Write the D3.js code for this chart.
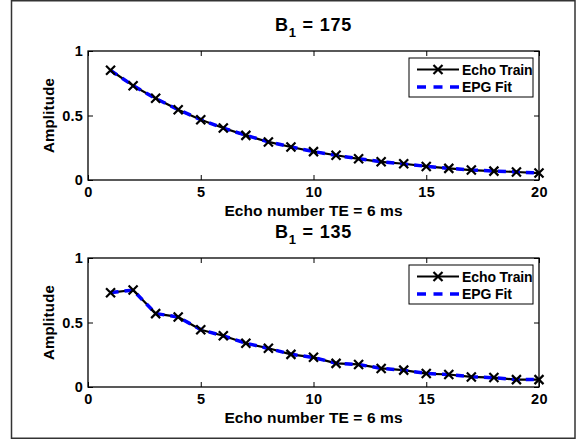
<!DOCTYPE html>
<html>
<head>
<meta charset="utf-8">
<script src="https://cdn.jsdelivr.net/npm/d3@7"></script>
<style>
  html, body { margin: 0; padding: 0; background: #fff; }
  svg { display: block; }
  text { font-family: "Liberation Sans", Arial, Helvetica, sans-serif; font-weight: bold; fill: #000; }
</style>
</head>
<body>
<svg id="chart" width="584" height="440"></svg>
<script>
// Echo index (1..20)
const echoNumbers = d3.range(1, 21);

// Panel 1: B1 = 175
const train175 = [0.851, 0.731, 0.633, 0.544, 0.467, 0.403, 0.346, 0.295, 0.256, 0.220,
                  0.192, 0.164, 0.141, 0.126, 0.105, 0.090, 0.077, 0.069, 0.062, 0.054];
const fit175   = [0.850, 0.732, 0.632, 0.545, 0.468, 0.402, 0.347, 0.296, 0.256, 0.221,
                  0.191, 0.165, 0.142, 0.125, 0.106, 0.091, 0.078, 0.069, 0.062, 0.055];

// Panel 2: B1 = 135
const train135 = [0.731, 0.752, 0.569, 0.543, 0.444, 0.397, 0.339, 0.300, 0.253, 0.230,
                  0.183, 0.175, 0.144, 0.131, 0.104, 0.097, 0.078, 0.073, 0.057, 0.057];
const fit135   = [0.732, 0.751, 0.570, 0.542, 0.445, 0.396, 0.340, 0.299, 0.254, 0.229,
                  0.184, 0.174, 0.145, 0.130, 0.105, 0.096, 0.079, 0.072, 0.058, 0.057];

const titles = ["175", "135"];
const xTicks = [0, 5, 10, 15, 20];
const yTicks = [0, 0.5, 1];
const yTickLabels = ["0", "0.5", "1"];
const legendLabels = ["Echo Train", "EPG Fit"];
const xLabel = "Echo number TE = 6 ms";
const yLabel = "Amplitude";

const panels = [
  { title: titles[0], train: train175, fit: fit175, top: 51, bottom: 180 },
  { title: titles[1], train: train135, fit: fit135, top: 258, bottom: 387 }
];

const svg = d3.select("#chart");

// outer figure frame
svg.append("rect")
  .attr("x", 11.5).attr("y", 0.75)
  .attr("width", 563.5).attr("height", 437.5)
  .attr("fill", "none").attr("stroke", "#333").attr("stroke-width", 1.5);

const left = 88, right = 539;
const x = d3.scaleLinear().domain([0, 20]).range([left, right]);

panels.forEach(p => {
  const y = d3.scaleLinear().domain([0, 1]).range([p.bottom, p.top]);
  const g = svg.append("g");

  g.append("rect")
    .attr("x", left).attr("y", p.top)
    .attr("width", right - left).attr("height", p.bottom - p.top)
    .attr("fill", "#fff");

  const styleAxis = sel => {
    sel.attr("font-size", null).attr("font-family", null);
    sel.select(".domain").remove();
    sel.selectAll(".tick line").attr("stroke", "#000").attr("stroke-width", 1);
  };

  // bottom axis with labels
  const xb = g.append("g").attr("transform", `translate(0,${p.bottom})`)
    .call(d3.axisBottom(x).tickValues(xTicks).tickSize(-5).tickPadding(7).tickFormat(d3.format("d")));
  styleAxis(xb);
  xb.selectAll(".tick text").style("font-size", "14.5px").attr("letter-spacing", "0.4px")
    .attr("dy", "0.71em");

  // top axis: ticks only
  const xt = g.append("g").attr("transform", `translate(0,${p.top})`)
    .call(d3.axisTop(x).tickValues(xTicks).tickSize(-5).tickFormat(""));
  styleAxis(xt);

  // left axis with labels
  const yl = g.append("g").attr("transform", `translate(${left},0)`)
    .call(d3.axisLeft(y).tickValues(yTicks).tickSize(-5).tickPadding(5)
      .tickFormat((d, i) => yTickLabels[i]));
  styleAxis(yl);
  yl.selectAll(".tick text").style("font-size", "14.5px").attr("letter-spacing", "0.2px");

  // right axis: ticks only
  const yr = g.append("g").attr("transform", `translate(${right},0)`)
    .call(d3.axisRight(y).tickValues(yTicks).tickSize(-5).tickFormat(""));
  styleAxis(yr);

  // box outline
  g.append("rect")
    .attr("x", left).attr("y", p.top)
    .attr("width", right - left).attr("height", p.bottom - p.top)
    .attr("fill", "none").attr("stroke", "#000").attr("stroke-width", 1.3);

  const line = d3.line().x((d, i) => x(echoNumbers[i])).y(d => y(d));

  // measured echo train
  g.append("path").datum(p.train)
    .attr("d", line).attr("fill", "none")
    .attr("stroke", "#000").attr("stroke-width", 2.2).attr("stroke-linejoin", "round");

  // EPG fit (dashed)
  g.append("path").datum(p.fit)
    .attr("d", line).attr("fill", "none")
    .attr("stroke", "#0000ff").attr("stroke-width", 3.5).attr("stroke-dasharray", "8,6");

  // x markers
  const ms = 4.5;
  const marks = g.append("g");
  p.train.forEach((v, i) => {
    const cx = x(echoNumbers[i]), cy = y(v);
    marks.append("path")
      .attr("d", `M${cx - ms},${cy - ms}L${cx + ms},${cy + ms}M${cx - ms},${cy + ms}L${cx + ms},${cy - ms}`)
      .attr("stroke", "#000").attr("stroke-width", 2.2).attr("fill", "none");
  });

  // title: B with subscript 1
  const t = g.append("text")
    .attr("x", (left + right) / 2).attr("y", p.top - 20)
    .attr("text-anchor", "middle").style("font-size", "18px").attr("letter-spacing", "0.8px");
  t.append("tspan").text("B");
  t.append("tspan").style("font-size", "13px").attr("dy", "6").text("1");
  t.append("tspan").attr("dy", "-6").text(" = " + p.title);

  // axis labels
  g.append("text")
    .attr("x", (left + right) / 2).attr("y", p.bottom + 36)
    .attr("text-anchor", "middle").style("font-size", "15.5px").attr("letter-spacing", "0.1px")
    .text(xLabel);

  g.append("text")
    .attr("transform", `translate(54,${(p.top + p.bottom) / 2}) rotate(-90)`)
    .attr("text-anchor", "middle").style("font-size", "15px").attr("letter-spacing", "0.2px")
    .text(yLabel);

  // legend
  const lx = 409, ly = p.top + 7, lw = 124, lh = 39;
  const lg = g.append("g");
  lg.append("rect").attr("x", lx).attr("y", ly).attr("width", lw).attr("height", lh)
    .attr("fill", "#fff").attr("stroke", "#000").attr("stroke-width", 1);

  const row1 = ly + 11.5, row2 = ly + 29;
  lg.append("line").attr("x1", lx + 8).attr("x2", lx + 50).attr("y1", row1).attr("y2", row1)
    .attr("stroke", "#000").attr("stroke-width", 2.2);
  const mx = lx + 29;
  lg.append("path")
    .attr("d", `M${mx - ms},${row1 - ms}L${mx + ms},${row1 + ms}M${mx - ms},${row1 + ms}L${mx + ms},${row1 - ms}`)
    .attr("stroke", "#000").attr("stroke-width", 2.2);
  lg.append("line").attr("x1", lx + 8).attr("x2", lx + 50).attr("y1", row2).attr("y2", row2)
    .attr("stroke", "#0000ff").attr("stroke-width", 3.5).attr("stroke-dasharray", "9,7.5");

  lg.append("text").attr("x", lx + 53).attr("y", row1 + 5)
    .style("font-size", "14px").attr("letter-spacing", "-0.1px").text(legendLabels[0]);
  lg.append("text").attr("x", lx + 53).attr("y", row2 + 5)
    .style("font-size", "14px").attr("letter-spacing", "-0.1px").text(legendLabels[1]);
});
</script>
</body>
</html>
